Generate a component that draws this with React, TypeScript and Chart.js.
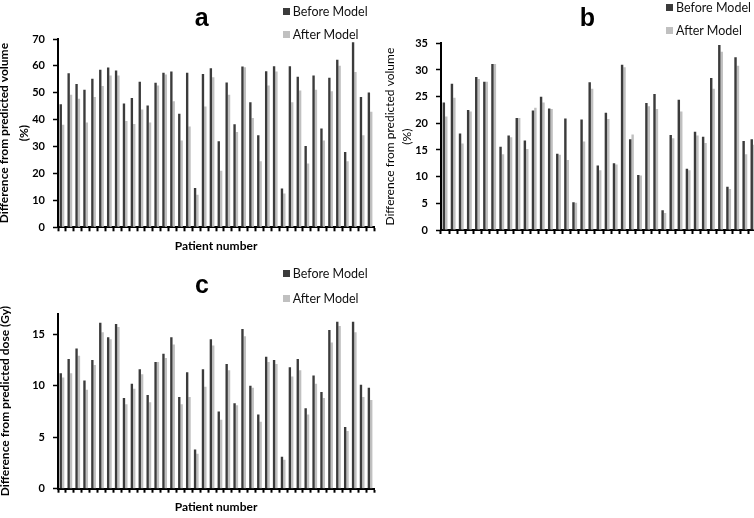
import React, { useEffect, useRef } from "react";
import { Chart, registerables } from "chart.js";
Chart.register(...registerables);

// ---------- data ----------
const patientsA = Array.from({ length: 40 }, (_, i) => String(i + 1));
const patientsB = Array.from({ length: 39 }, (_, i) => String(i + 1));
const patientsC = Array.from({ length: 40 }, (_, i) => String(i + 1));

const volumeBeforeA = [45.7, 57.3, 53.3, 51.1, 55.2, 58.6, 59.4, 58.3, 46.0, 48.1, 54.1, 45.3, 53.7, 57.5, 57.9, 42.2, 57.5, 14.6, 57.0, 59.1, 32.0, 53.8, 38.3, 59.8, 46.5, 34.2, 58.0, 59.9, 14.4, 59.9, 56.0, 30.2, 56.4, 36.7, 55.6, 62.3, 28.0, 68.8, 48.4, 50.1];
const volumeAfterA = [38.1, 49.3, 47.8, 39.0, 48.4, 52.5, 56.4, 56.4, 39.5, 38.4, 43.8, 39.0, 52.7, 56.8, 46.9, 32.3, 37.5, 12.1, 44.9, 55.8, 21.0, 49.3, 35.4, 59.5, 40.6, 24.6, 52.7, 57.9, 12.6, 46.5, 50.9, 23.7, 51.1, 32.3, 50.6, 60.1, 24.6, 57.7, 34.2, 43.0];

const volumeBeforeB = [23.9, 27.4, 18.1, 22.5, 28.7, 27.8, 31.1, 15.6, 17.7, 21.0, 16.8, 22.4, 25.0, 22.8, 14.3, 20.9, 5.2, 20.7, 27.7, 12.1, 22.0, 12.5, 31.0, 17.0, 10.3, 23.8, 25.5, 3.7, 17.8, 24.4, 11.5, 18.4, 17.5, 28.5, 34.7, 8.1, 32.4, 16.7, 17.0];
const volumeAfterB = [21.3, 24.8, 16.2, 22.2, 28.3, 27.8, 31.1, 14.2, 17.4, 21.0, 15.2, 22.9, 23.9, 22.7, 14.1, 13.1, 5.1, 16.6, 26.5, 11.2, 20.8, 12.3, 30.5, 17.9, 10.2, 23.2, 22.7, 3.2, 17.2, 22.2, 11.2, 17.7, 16.3, 26.5, 33.4, 7.7, 30.8, 14.2, 16.0];

const doseBeforeC = [11.2, 12.6, 13.6, 10.5, 12.5, 16.1, 14.7, 16.0, 8.8, 10.2, 11.6, 9.1, 12.3, 13.1, 14.7, 8.9, 11.3, 3.8, 11.6, 14.5, 7.5, 12.1, 8.3, 15.5, 10.0, 7.2, 12.8, 12.5, 3.1, 11.8, 12.6, 7.8, 11.0, 9.4, 15.4, 16.2, 6.0, 16.2, 10.1, 9.8];
const doseAfterC = [10.8, 11.2, 12.9, 9.6, 12.0, 15.2, 14.5, 15.7, 8.2, 9.7, 11.1, 8.4, 12.3, 12.7, 14.0, 8.2, 8.9, 3.4, 9.9, 13.9, 6.7, 11.5, 8.1, 14.8, 9.8, 6.5, 12.3, 12.1, 2.8, 10.9, 11.5, 7.2, 10.2, 8.8, 14.2, 15.8, 5.6, 15.2, 8.9, 8.6];

const seriesNames = ["Before Model", "After Model"];
const xAxisTitle = "Patient number";
const yTitleVolume = ["Difference from predicted volume", "(%)"];
const yTitleDose = "Difference from predicted dose (Gy)";

// ---------- styles ----------
const DARK = "#3b3b3b";
const LIGHT = "#c0c0c0";
const FONT = "Lato, 'Open Sans', sans-serif";

type Spec = {
  labels: string[];
  before: number[];
  after: number[];
  yMax: number;
  yStep: number;
  yTitle: string | string[];
  yTitleWeight: string;
  yTitleLH: string | number;
  yTitlePad: number;
  xTitle: string | null;
  xTitlePadBottom: number;
  yWidth: number;
  xHeight: number;
  padTop: number;
  padRight: number;
  tickPad: number;
};

function BarPanel({ spec, style }: { spec: Spec; style: React.CSSProperties }) {
  const ref = useRef<HTMLCanvasElement | null>(null);
  useEffect(() => {
    if (!ref.current) return;
    const chart = new Chart(ref.current, {
      type: "bar",
      data: {
        labels: spec.labels,
        datasets: [
          { label: seriesNames[0], data: spec.before, backgroundColor: DARK, borderWidth: 0, categoryPercentage: 0.6, barPercentage: 1 },
          { label: seriesNames[1], data: spec.after, backgroundColor: LIGHT, borderWidth: 0, categoryPercentage: 0.6, barPercentage: 1 },
        ],
      },
      options: {
        animation: false,
        responsive: true,
        maintainAspectRatio: false,
        layout: { padding: { top: spec.padTop, right: spec.padRight, left: 0, bottom: 0 } },
        plugins: { legend: { display: false }, tooltip: { enabled: false }, title: { display: false } },
        scales: {
          x: {
            grid: { display: true, drawOnChartArea: false, drawTicks: true, tickLength: 4, tickWidth: 2, tickColor: "#000", offset: true },
            border: { display: true, color: "#000", width: 2 },
            ticks: { display: false, autoSkip: false },
            title: spec.xTitle
              ? { display: true, text: spec.xTitle, color: "#000", font: { family: FONT, size: 12, weight: "bold" }, padding: { top: 0, bottom: spec.xTitlePadBottom } }
              : { display: false },
            afterFit: (s: any) => { s.height = spec.xHeight; },
          },
          y: {
            min: 0,
            max: spec.yMax,
            bounds: "data",
            ticks: { stepSize: spec.yStep, color: "#000", font: { family: FONT, size: 11, weight: "bold" }, padding: spec.tickPad },
            afterBuildTicks: (s: any) => {
              s.ticks = s.ticks.filter((t: any) => Math.abs(t.value / spec.yStep - Math.round(t.value / spec.yStep)) < 1e-6);
            },
            grid: { drawOnChartArea: false, drawTicks: true, tickLength: 5, tickWidth: 1.5, tickColor: "#000" },
            border: { display: true, color: "#000", width: 2 },
            title: {
              display: true,
              text: spec.yTitle,
              color: "#000",
              font: { family: FONT, size: 12, weight: spec.yTitleWeight as any, lineHeight: spec.yTitleLH },
              padding: { top: spec.yTitlePad, bottom: 0 },
            },
            afterFit: (s: any) => { s.width = spec.yWidth; },
          },
        },
      } as any,
    });
    return () => chart.destroy();
  }, []);
  return (
    <div style={{ position: "absolute", ...style }}>
      <canvas ref={ref} />
    </div>
  );
}

function LegendItem({ x, cy, color, text }: { x: number; cy: number; color: string; text: string }) {
  return (
    <div style={{ position: "absolute", left: x, top: cy - 8, height: 16, display: "flex", alignItems: "center", font: `12.5px ${FONT}`, color: "#111", whiteSpace: "nowrap" }}>
      <span style={{ display: "inline-block", width: 7, height: 7, background: color, marginRight: 3 }} />
      {text}
    </div>
  );
}

function PanelLetter({ cx, baseline, text }: { cx: number; baseline: number; text: string }) {
  return (
    <div style={{ position: "absolute", left: cx - 20, width: 40, top: baseline - 21.2, textAlign: "center", font: "bold 25px 'Liberation Sans', Arial, sans-serif", lineHeight: "25px", color: "#000" }}>
      {text}
    </div>
  );
}

const specA: Spec = {
  labels: patientsA, before: volumeBeforeA, after: volumeAfterA,
  yMax: 70, yStep: 10, yTitle: yTitleVolume, yTitleWeight: "bold", yTitleLH: "20px", yTitlePad: -5.5,
  xTitle: xAxisTitle, xTitlePadBottom: 9, yWidth: 58, xHeight: 34.7, padTop: 39, padRight: 6, tickPad: 8,
};
const specB: Spec = {
  labels: patientsB, before: volumeBeforeB, after: volumeAfterB,
  yMax: 35, yStep: 5, yTitle: yTitleVolume, yTitleWeight: "normal", yTitleLH: "17px", yTitlePad: 4.5,
  xTitle: null, xTitlePadBottom: 0, yWidth: 64, xHeight: 32, padTop: 43.3, padRight: 0, tickPad: 8,
};
const specC: Spec = {
  labels: patientsC, before: doseBeforeC, after: doseAfterC,
  yMax: 17, yStep: 5, yTitle: yTitleDose, yTitleWeight: "bold", yTitleLH: 1.2, yTitlePad: -2.2,
  xTitle: xAxisTitle, xTitlePadBottom: 3.8, yWidth: 58, xHeight: 29.3, padTop: 51.6, padRight: 6, tickPad: 8,
};

export default function App() {
  return (
    <div style={{ position: "fixed", left: 0, top: 0, width: 754, height: 518, overflow: "hidden", background: "#fff" }}>
      <BarPanel spec={specA} style={{ left: 0, top: 0, width: 380, height: 262 }} />
      <BarPanel spec={specB} style={{ left: 377, top: 0, width: 380, height: 262 }} />
      <BarPanel spec={specC} style={{ left: 0, top: 262, width: 380, height: 256 }} />

      <PanelLetter cx={201.7} baseline={26} text="a" />
      <PanelLetter cx={587.5} baseline={26} text="b" />
      <PanelLetter cx={202} baseline={292.7} text="c" />

      <LegendItem x={282.7} cy={11.5} color={DARK} text={seriesNames[0]} />
      <LegendItem x={282.7} cy={34.5} color={LIGHT} text={seriesNames[1]} />
      <LegendItem x={666} cy={7} color={DARK} text={seriesNames[0]} />
      <LegendItem x={666} cy={30} color={LIGHT} text={seriesNames[1]} />
      <LegendItem x={282.7} cy={273.7} color={DARK} text={seriesNames[0]} />
      <LegendItem x={282.7} cy={298} color={LIGHT} text={seriesNames[1]} />
    </div>
  );
}
